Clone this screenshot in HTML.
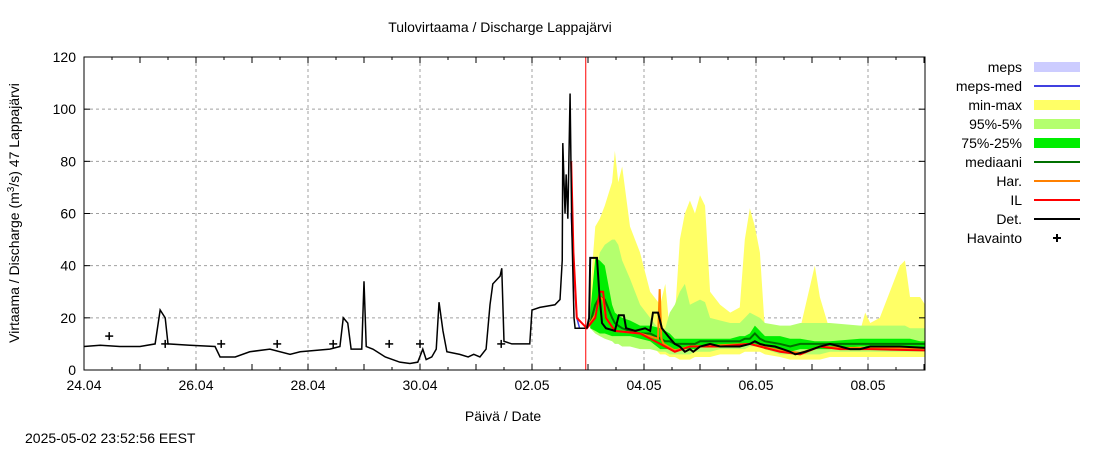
<!DOCTYPE html>
<html><head><meta charset="utf-8"><style>
body{margin:0;background:#fff;width:1100px;height:450px;overflow:hidden;font-family:"Liberation Sans",sans-serif}
svg text{font-family:"Liberation Sans",sans-serif;font-size:14px;fill:#000}
</style></head><body>
<svg id="chart" width="1100" height="450" xmlns="http://www.w3.org/2000/svg"></svg>
<script>
// time in days from 24.04 00:00
const xTickLabels=["24.04","26.04","28.04","30.04","02.05","04.05","06.05","08.05"];
const yTicks=[0,20,40,60,80,100,120];
const histT=[0,.29,.64,1.0,1.27,1.36,1.45,1.5,1.89,2.34,2.43,2.7,2.96,3.32,3.68,3.86,4.39,4.57,4.63,4.71,4.77,4.96,5.0,5.04,5.16,5.38,5.64,5.82,5.96,6.05,6.11,6.21,6.29,6.34,6.41,6.48,6.71,6.86,6.96,7.07,7.18,7.25,7.3,7.43,7.46,7.5,7.64,7.96,8.0,8.14,8.41,8.5,8.54,8.55,8.59,8.61,8.64,8.68,8.71,8.75,8.77,8.91,8.98];
const histV=[9,9.5,9,9,10,23,20,10,9.5,9,5,5,7,8,6,7,8,9,20,18,8,8,34,9,8,5,3,2.5,3,8,4,5,8,26,15,7,6,5,6,5,8,25,33,36,39,11,10,10,23,24,25,27,42,87,60,75,58,106,55,20,16,16,16];
const detT=[8.98,9.02,9.04,9.16,9.2,9.25,9.32,9.48,9.55,9.64,9.68,9.84,10.02,10.11,10.16,10.25,10.32,10.43,10.55,10.64,10.73,10.82,10.88,11.0,11.18,11.36,11.71,11.89,11.98,12.07,12.16,12.34,12.61,12.7,12.88,13.14,13.32,13.5,13.68,13.86,14.04,14.21,14.57,15.02];
const detV=[16,20,43,43,30,18,16,15,21,21,16,15,16,15,22,22,16,13,10,9,7,8,7,9,10,9,9,10,11,10,9.5,9,7,6,7,9,10,9,8,8,9,9,9,8.5];
const ilT=[8.7,8.74,8.8,8.98,9.13,9.21,9.27,9.32,9.48,9.93,10.29,10.55,10.82,11.36,11.89,12.43,12.79,13.14,13.5,14.04,15.02];
const ilV=[80,45,20,16,20,30,30,20,15,14,10,7,9,9,10,7,6,9,8,8,7.5];
const harT=[8.98,9.13,9.21,9.27,9.32,9.48,9.93,10.25,10.28,10.31,10.35,10.55,10.82,11.36,11.89,12.43,12.79,13.14,13.5,14.04,15.02];
const harV=[16,21,28,27,20,15,14,12,31,12,10,7.5,9,9.5,10,7.5,6.5,9,8.5,8.5,8];
const mepsT=[8.7,8.74,8.8,8.85,9.0];
const mepsV=[60,40,20,16,16];
const bandT=[9.04,9.13,9.21,9.30,9.43,9.48,9.54,9.61,9.75,9.93,10.11,10.29,10.38,10.46,10.55,10.64,10.73,10.82,10.91,11.0,11.09,11.18,11.36,11.54,11.71,11.8,11.89,11.98,12.07,12.16,12.43,12.61,12.79,13.05,13.14,13.32,13.86,13.95,14.04,14.21,14.39,14.57,14.66,14.75,14.93,15.02];
const maxV=[30,55,58,63,72,84,72,78,55,45,30,25,33,15,20,50,60,65,60,67,63,30,25,22,24,50,62,55,45,15,14,15,16,40,28,15,15,22,18,20,30,40,42,28,28,25];
const minV=[16,15,14,13,13,12,12,12,12,12,10,6,6,5,5,4,4,4,5,5,5,5,6,6,6,7,7,7,7,6,5,4,4,4,4,5,5,5,5,5,5,5,5,5,5,5];
const p95V=[22,35,45,48,50,50,48,42,35,25,20,15,16,22,25,30,33,25,26,27,26,20,19,18,18,20,22,21,20,18,17,17,18,18,18,18,17,17,17,17,17,17,17,16,16,16];
const p5V=[16,14,13,12,11,10,10,9,9,8,8,7,7,6,6,6,6,6,7,7,7,7,8,8,8,8,9,9,9,8,6,6,6,6,6,7,7,7,7,7,7,7,7,7,7,7];
const p75V=[22,43,42,40,25,22,21,20,19,17,17,16,15,14,12,12,12,12,12,12,12,12,12,12,13,13,14,17,15,13,13,12,12,11,11,11,12,12,12,12,12,12,12,12,11,11];
const p25V=[16,15,14,14,13,13,13,13,13,12,11,8,8,8,8,8,8,8,8,9,9,9,9,9,9,10,10,10,9,8,7,7,8,8,8,8,9,9,9,9,9,9,9,9,8.5,8.5];
const medV=[18,25,28,27,20,18,17,16,15,14,14,12,11,11,10,10,10,10,10,11,11,11,11,11,11,12,12,14,12,11,10,9,10,10,10,10,10,10,10,10,10,10,10,10,10,10];
const obsT=[0.45,1.45,2.45,3.45,4.45,5.45,6.0,7.45];
const obsV=[13,10,10,10,10,10,10,10];
const nowT=8.96;

const L=84,R=925,T=57,B=370,DAYS=(R-L)/56;
const X=d=>L+d*56, Y=v=>B-v*(B-T)/120;
const svg=document.getElementById('chart');const NS='http://www.w3.org/2000/svg';
function mk(tag,attrs,parent){const e=document.createElementNS(NS,tag);for(const k in attrs)e.setAttribute(k,attrs[k]);(parent||svg).appendChild(e);return e;}
function txt(x,y,s,anchor,extra){const e=mk('text',Object.assign({x:x,y:y,'text-anchor':anchor||'start'},extra||{}));e.textContent=s;return e;}
// grid
const grid=mk('g',{stroke:'#a0a0a0','stroke-dasharray':'3,3','stroke-width':1});


yTicks.forEach(v=>{if(v>0&&v<120)mk('line',{x1:L,x2:R,y1:Y(v),y2:Y(v)},grid);});
xTickLabels.forEach((s,i)=>{if(i>0)mk('line',{x1:X(i*2),x2:X(i*2),y1:T,y2:B},grid);});
function band(lo,hi,color,name){const pts=bandT.map((t,i)=>X(t)+','+Y(hi[i])).concat(bandT.map((t,i)=>X(t)+','+Y(lo[i])).reverse());
const p=mk('polygon',{points:pts.join(' '),fill:color});

}
function line(ts,vs,color,w,name){const p=mk('polyline',{points:ts.map((t,i)=>X(t)+','+Y(vs[i])).join(' '),fill:'none',stroke:color,'stroke-width':w,'stroke-linejoin':'miter'});

}
band(minV,maxV,'#ffff66','min-max-band');
band(p5V,p95V,'#b4ff6e','p95-p5-band');
band(p25V,p75V,'#00ee00','p75-p25-band');
line(bandT,medV,'#007000',2,'median-line');
line(mepsT,mepsV,'#4040e0',1.5,'meps-median-line');
line(harT,harV,'#ff8000',2,'har-line');
line(ilT,ilV,'#ff0000',2,'il-line');
line(histT,histV,'#000',1.5,'observed-history-line');
line(detT,detV,'#000',2,'det-line');
const now=mk('line',{x1:X(nowT),x2:X(nowT),y1:T,y2:B,stroke:'#ff0000','stroke-width':1});


obsT.forEach((t,i)=>{const g=mk('g',{stroke:'#000','stroke-width':1.5});


mk('line',{x1:X(t)-4,x2:X(t)+4,y1:Y(obsV[i]),y2:Y(obsV[i])},g);mk('line',{x1:X(t),x2:X(t),y1:Y(obsV[i])-4,y2:Y(obsV[i])+4},g);});
// frame & ticks
const fr=mk('rect',{x:L,y:T,width:R-L,height:B-T,fill:'none',stroke:'#000','stroke-width':1});


const tk=mk('g',{stroke:'#000','stroke-width':1});
yTicks.forEach(v=>{mk('line',{x1:L,x2:L+6,y1:Y(v),y2:Y(v)},tk);mk('line',{x1:R-6,x2:R,y1:Y(v),y2:Y(v)},tk);
const t=txt(L-8,Y(v)+5,String(v),'end');});
for(let h=0;h<=DAYS*2;h++){const x=X(h/2),len=h%2?3:6;mk('line',{x1:x,x2:x,y1:B,y2:B-len},tk);mk('line',{x1:x,x2:x,y1:T,y2:T+len},tk);}
xTickLabels.forEach((s,i)=>{const t=txt(X(i*2),B+20,s,'middle');});
const ti=txt(500,32,'Tulovirtaama / Discharge  Lappajärvi','middle',{'xml:space':'preserve'});
const xl=txt(503,421,'Päivä / Date','middle');
const yl=mk('text',{x:0,y:0,'text-anchor':'middle',transform:'translate(19,213) rotate(-90)'});yl.innerHTML='Virtaama / Discharge (m<tspan dy="-5" font-size="10">3</tspan><tspan dy="5">/s)  47 Lappajärvi</tspan>';
yl.setAttribute('xml:space','preserve');


const ts=txt(25,443,'2025-05-02 23:52:56 EEST');
// legend
const legNames=['meps','meps-med','min-max','95%-5%','75%-25%','mediaani','Har.','IL','Det.','Havainto'];
const legColors=['#ccccff','#4040e0','#ffff66','#b4ff6e','#00ee00','#007000','#ff8000','#ff0000','#000','#000'];
const legKinds=['box','line','box','box','box','line','line','line','line','plus'];
legNames.forEach((n,i)=>{const y=67+i*19;const g=mk('g',{});


const t=txt(1022,y+5,n,'end');g.appendChild(t);
if(legKinds[i]==='box')mk('rect',{x:1034,y:y-5,width:46,height:10,fill:legColors[i]},g);
else if(legKinds[i]==='line')mk('line',{x1:1034,x2:1080,y1:y,y2:y,stroke:legColors[i],'stroke-width':2},g);
else{mk('line',{x1:1053,x2:1061,y1:y,y2:y,stroke:'#000','stroke-width':2},g);mk('line',{x1:1057,x2:1057,y1:y-4,y2:y+4,stroke:'#000','stroke-width':2},g);}});
</script>
</body></html>
